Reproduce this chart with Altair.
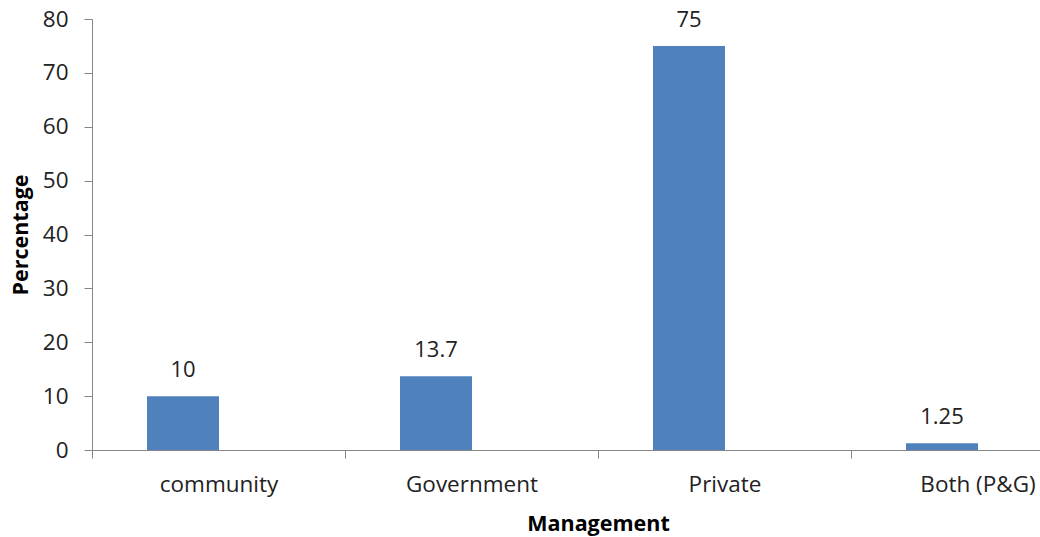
import altair as alt
import pandas as pd

categories = ["community", "Government", "Private", "Both (P&G)"]
values = [10, 13.7, 75, 1.25]
value_labels = ["10", "13.7", "75", "1.25"]

df = pd.DataFrame({"Management": categories, "Percentage": values, "label": value_labels})

FONT = "Open Sans"
AXIS_COLOR = "#868686"
TEXT_COLOR = "#222222"
BAR_COLOR = "#4F81BD"

x = alt.X(
    "Management:N",
    sort=categories,
    scale=alt.Scale(range=[0, 1012], paddingInner=0, paddingOuter=0),
    axis=alt.Axis(
        title="Management",
        labelAngle=0,
        tickBand="extent",
        tickSize=8,
        labelPadding=15,
        labelFontSize=22.5,
        labelFont=FONT,
        labelColor=TEXT_COLOR,
        titleFontSize=21.5,
        titleFont=FONT,
        titleFontWeight="bold",
        titleColor="#000000",
        titleY=80,
        titleBaseline="alphabetic",
        domainColor=AXIS_COLOR,
        tickColor=AXIS_COLOR,
        grid=False,
    ),
)

y = alt.Y(
    "Percentage:Q",
    scale=alt.Scale(domain=[0, 80], nice=False),
    axis=alt.Axis(
        title="Percentage",
        values=[0, 10, 20, 30, 40, 50, 60, 70, 80],
        tickSize=8,
        labelPadding=16,
        labelFontSize=22.5,
        labelFont=FONT,
        labelColor=TEXT_COLOR,
        titleFontSize=21.5,
        titleFont=FONT,
        titleFontWeight="bold",
        titleColor="#000000",
        titleX=-64.5,
        titleY=215.5,
        titleAngle=270,
        titleAlign="center",
        titleBaseline="alphabetic",
        domainColor=AXIS_COLOR,
        tickColor=AXIS_COLOR,
        grid=False,
    ),
)

bars = alt.Chart(df).mark_bar(width=72, xOffset=-35.5, color=BAR_COLOR).encode(x=x, y=y)

text = alt.Chart(df).mark_text(
    xOffset=-35.5, dy=-19, baseline="alphabetic", fontSize=22, font=FONT, color=TEXT_COLOR
).encode(x=x, y=y, text="label:N")

chart = (
    (bars + text)
    .properties(
        width=948,
        height=431,
        autosize=alt.AutoSizeParams(type="none"),
        padding={"left": 92, "top": 19, "right": 0, "bottom": 87},
        background="white",
    )
    .configure_view(stroke=None)
)

chart.save("out.html", embed_options={"renderer": "svg", "actions": False})
